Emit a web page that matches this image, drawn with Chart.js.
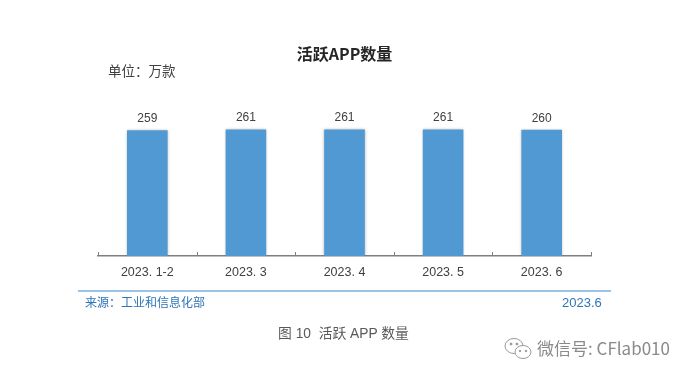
<!DOCTYPE html>
<html lang="zh-CN">

<head>
    <meta charset="UTF-8">
    <title>活跃APP数量</title>
    <script src="https://cdn.jsdelivr.net/npm/chart.js@4"></script>
    <style>
        html, body { margin: 0; padding: 0; background: #fff; overflow: hidden; }
        body { width: 693px; height: 379px; position: relative; font-family: "Noto Sans CJK SC", "Liberation Sans", sans-serif; }
        canvas { position: absolute; left: 0; top: 0; }
        .txt { position: absolute; white-space: nowrap; line-height: 1; }
        #unit { left: 108px; top: 64px; font-size: 13.5px; color: #404040; }
        #rule { position: absolute; left: 78px; top: 290px; width: 533px; height: 2px; background: #9DC3E6; }
        #source { left: 85px; top: 296px; font-size: 12px; color: #2E75B6; }
        #date { left: 562px; top: 296px; font-size: 13px; color: #2E75B6; font-family: "Liberation Sans", sans-serif; }
        #caption { left: 278px; top: 327px; font-size: 13.8px; color: #595959; font-family: "Liberation Sans", "Noto Sans CJK SC", sans-serif; }
        #mark { left: 537px; top: 339px; font-size: 17px; color: #8a8a8a; }
        #logo { position: absolute; left: 504px; top: 336px; }
    </style>
</head>

<body>
    <canvas id="grafico" width="693" height="379"></canvas>
    <div class="txt" id="unit">单位：万款</div>
    <div id="rule"></div>
    <div class="txt" id="source">来源：工业和信息化部</div>
    <div class="txt" id="date">2023.6</div>
    <div class="txt" id="caption">图 10&nbsp; 活跃 APP 数量</div>
    <svg id="logo" width="30" height="26" viewBox="0 0 30 26" fill="none" stroke="#999" stroke-width="1">
        <ellipse cx="10" cy="10" rx="9" ry="7.5"/>
        <ellipse cx="19" cy="16" rx="8" ry="6.5" fill="#fff"/>
        <circle cx="7" cy="8" r="1" fill="#999"/>
        <circle cx="13" cy="8" r="1" fill="#999"/>
        <circle cx="16" cy="15" r="0.8" fill="#999"/>
        <circle cx="22" cy="15" r="0.8" fill="#999"/>
    </svg>
    <div class="txt" id="mark">微信号: CFlab010</div>

    <script>
        const categorias = ['2023. 1-2', '2023. 3', '2023. 4', '2023. 5', '2023. 6'];
        const valores = [259, 261, 261, 261, 260];
        const titulo = '活跃APP数量';

        // marcas do eixo para cima e sombra leve das barras
        const marcasEixo = {
            id: 'marcasEixo',
            afterDraw(chart) {
                const { ctx, chartArea } = chart;
                const passo = (chartArea.right - chartArea.left) / categorias.length;
                ctx.save();
                ctx.strokeStyle = '#7f7f7f';
                ctx.lineWidth = 1;
                ctx.beginPath();
                for (let i = 0; i <= categorias.length; i++) {
                    const x = Math.round(chartArea.left + passo * i) + 0.5;
                    ctx.moveTo(x, chartArea.bottom);
                    ctx.lineTo(x, chartArea.bottom - 4);
                }
                ctx.stroke();
                ctx.restore();
            }
        };

        const sombraBarras = {
            id: 'sombraBarras',
            beforeDatasetDraw(chart) {
                chart.ctx.save();
                chart.ctx.shadowColor = 'rgba(0,0,0,0.3)';
                chart.ctx.shadowBlur = 3;
            },
            afterDatasetDraw(chart) {
                chart.ctx.restore();
            }
        };

        const rotulos = {
            id: 'rotulos',
            afterDatasetsDraw(chart) {
                const { ctx } = chart;
                ctx.save();
                ctx.font = '12px "Liberation Sans", sans-serif';
                ctx.fillStyle = '#404040';
                ctx.textAlign = 'center';
                ctx.textBaseline = 'bottom';
                chart.getDatasetMeta(0).data.forEach(function (barra, i) {
                    ctx.fillText(valores[i], barra.x, barra.y - 6);
                });
                ctx.restore();
            }
        };

        new Chart(document.getElementById('grafico'), {
            type: 'bar',
            data: {
                labels: categorias,
                datasets: [{
                    data: valores,
                    backgroundColor: '#5099D3',
                    barThickness: 40
                }]
            },
            options: {
                responsive: false,
                animation: false,
                layout: { padding: { left: 98, right: 102, top: 39, bottom: 93 } },
                plugins: {
                    legend: { display: false },
                    tooltip: { enabled: false },
                    title: {
                        display: true,
                        text: titulo,
                        color: '#262626',
                        font: { family: '"Noto Sans CJK SC", sans-serif', size: 16, weight: 'bold' },
                        padding: { top: 5, bottom: 37 }
                    }
                },
                scales: {
                    x: {
                        afterFit(escala) { escala.height = 30; },
                        grid: { display: false },
                        border: { color: '#7f7f7f', width: 1.5 },
                        ticks: {
                            color: '#404040',
                            padding: 1,
                            maxRotation: 0,
                            font: { family: '"Liberation Sans", sans-serif', size: 12.5 }
                        }
                    },
                    y: { display: false, min: 0, max: 322 }
                }
            },
            plugins: [sombraBarras, marcasEixo, rotulos]
        });
    </script>
</body>

</html>
